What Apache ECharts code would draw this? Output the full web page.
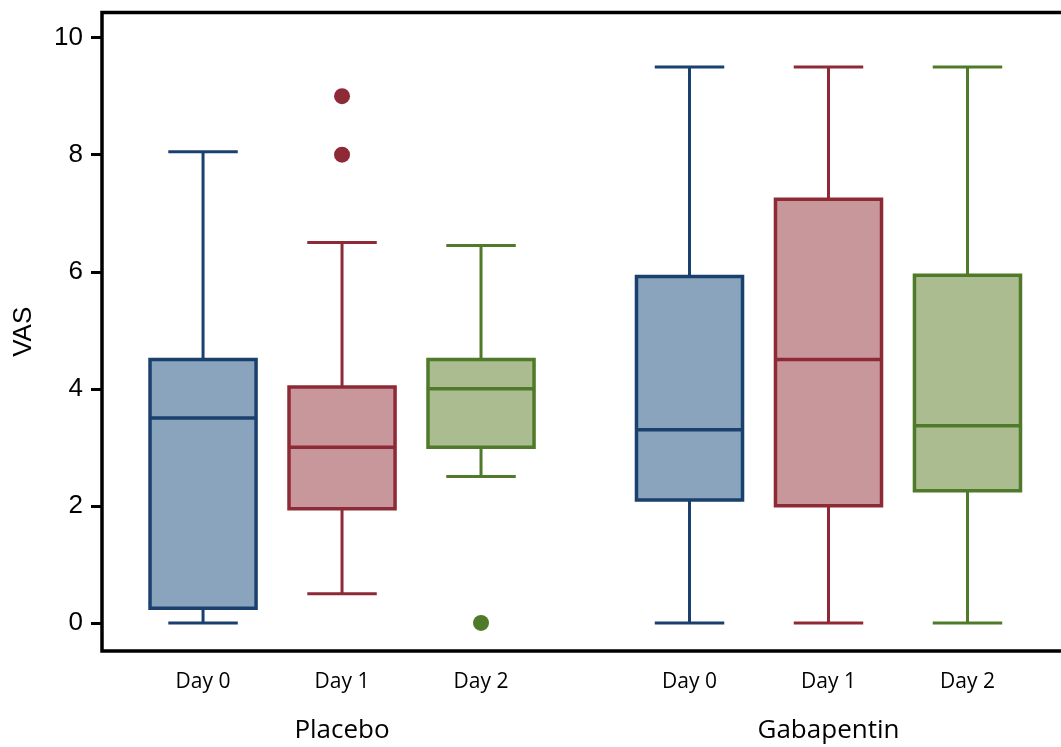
<!DOCTYPE html>
<html>
<head>
<meta charset="utf-8">
<script src="https://cdn.jsdelivr.net/npm/echarts@6/dist/echarts.min.js"></script>
<style>html,body{margin:0;padding:0;background:#fff;overflow:hidden}#c{width:1061px;height:747px}</style>
</head>
<body>
<div id="c"></div>
<script>
// ---- data ----
var positions   = [1, 2, 3, 4.5, 5.5, 6.5];
var dayLabels   = ['Day 0', 'Day 1', 'Day 2', 'Day 0', 'Day 1', 'Day 2'];
var groupNames  = ['Placebo', 'Gabapentin'];
var groupPos    = [2, 5.5];
var whiskerLow  = [0, 0.5, 2.5, 0, 0, 0];
var q1          = [0.25, 1.95, 3.0, 2.1, 2.0, 2.26];
var median      = [3.5, 3.0, 4.0, 3.3, 4.5, 3.37];
var q3          = [4.5, 4.03, 4.5, 5.92, 7.24, 5.94];
var whiskerHigh = [8.05, 6.5, 6.45, 9.5, 9.5, 9.5];
var outlierPos  = [2, 2, 3];
var outlierVal  = [9, 8, 0];
var yTicks      = [0, 2, 4, 6, 8, 10];

// ---- style ----
var strokeColors = ['#1a406e', '#8e2a36', '#4f7a29'];
var fillColors   = ['#8ba4be', '#c8979b', '#aabc90'];
var boxWidth = 0.763, capWidth = 0.5;

var boxData = positions.map(function (p, i) {
  return [p, whiskerLow[i], q1[i], median[i], q3[i], whiskerHigh[i]];
});
var outData = outlierPos.map(function (p, i) { return [p, outlierVal[i]]; });

function colorIdx(p) { return positions.indexOf(p) % 3; }

var X_MIN = 0.273, X_MAX = 7.288;

var chart = echarts.init(document.getElementById('c'), null, {renderer: 'canvas'});
chart.setOption({
  animation: false,
  grid: {left: 102, top: 12.5, width: 975, bottom: 96, show: true, outerBoundsMode: 'none', containLabel: false,
         borderColor: '#000', borderWidth: 3.5, backgroundColor: 'transparent'},
  xAxis: [{
    type: 'value', min: X_MIN, max: X_MAX,
    axisLine: {show: false}, axisTick: {show: false}, splitLine: {show: false},
    axisLabel: {
      customValues: positions, margin: 21,
      fontFamily: 'Open Sans', fontSize: 21, color: '#000',
      formatter: function (v) { var i = positions.indexOf(v); return i >= 0 ? dayLabels[i] : ''; }
    }
  }, {
    type: 'value', min: X_MIN, max: X_MAX, position: 'bottom',
    axisLine: {show: false}, axisTick: {show: false}, splitLine: {show: false},
    axisLabel: {
      customValues: groupPos, margin: 67,
      fontFamily: 'Open Sans', fontSize: 26, color: '#000',
      formatter: function (v) { var i = groupPos.indexOf(v); return i >= 0 ? groupNames[i] : ''; }
    }
  }],
  yAxis: {
    type: 'value', min: -0.48, max: 10.43,
    name: 'VAS', nameLocation: 'middle', nameGap: 65, nameRotate: 90,
    nameTextStyle: {fontFamily: 'Liberation Sans', fontSize: 26, color: '#000'},
    axisLine: {show: false}, splitLine: {show: false},
    axisTick: {show: true, customValues: yTicks, length: 11, lineStyle: {color: '#000', width: 3}},
    axisLabel: {customValues: yTicks, margin: 19, fontFamily: 'Liberation Sans', fontSize: 26, color: '#000'}
  },
  series: [{
    type: 'custom',
    xAxisIndex: 0,
    encode: {x: 0, y: [1, 2, 3, 4, 5]},
    data: boxData,
    clip: false,
    renderItem: function (params, api) {
      var x = api.value(0);
      var lo = api.coord([x, api.value(1)]);
      var a = api.coord([x, api.value(2)]);
      var m = api.coord([x, api.value(3)]);
      var b = api.coord([x, api.value(4)]);
      var hi = api.coord([x, api.value(5)]);
      var bw = api.size([boxWidth, 0])[0];
      var cw = api.size([capWidth, 0])[0];
      var ci = params.dataIndex % 3;
      var st = strokeColors[ci];
      var cx = lo[0];
      var ls = {stroke: st, lineWidth: 3};
      return {type: 'group', children: [
        {type: 'line', shape: {x1: cx, y1: hi[1], x2: cx, y2: b[1]}, style: ls},
        {type: 'line', shape: {x1: cx, y1: a[1], x2: cx, y2: lo[1]}, style: ls},
        {type: 'line', shape: {x1: cx - cw / 2, y1: hi[1], x2: cx + cw / 2, y2: hi[1]}, style: ls},
        {type: 'line', shape: {x1: cx - cw / 2, y1: lo[1], x2: cx + cw / 2, y2: lo[1]}, style: ls},
        {type: 'rect', shape: {x: cx - bw / 2, y: b[1], width: bw, height: a[1] - b[1]},
         style: {fill: fillColors[ci], stroke: st, lineWidth: 3.5}},
        {type: 'line', shape: {x1: cx - bw / 2, y1: m[1], x2: cx + bw / 2, y2: m[1]}, style: {stroke: st, lineWidth: 3.5}}
      ]};
    }
  }, {
    type: 'scatter',
    xAxisIndex: 0,
    data: outData,
    symbolSize: 16,
    itemStyle: {
      opacity: 1,
      color: function (p) { return strokeColors[colorIdx(p.value[0])]; }
    }
  }]
});
</script>
</body>
</html>
